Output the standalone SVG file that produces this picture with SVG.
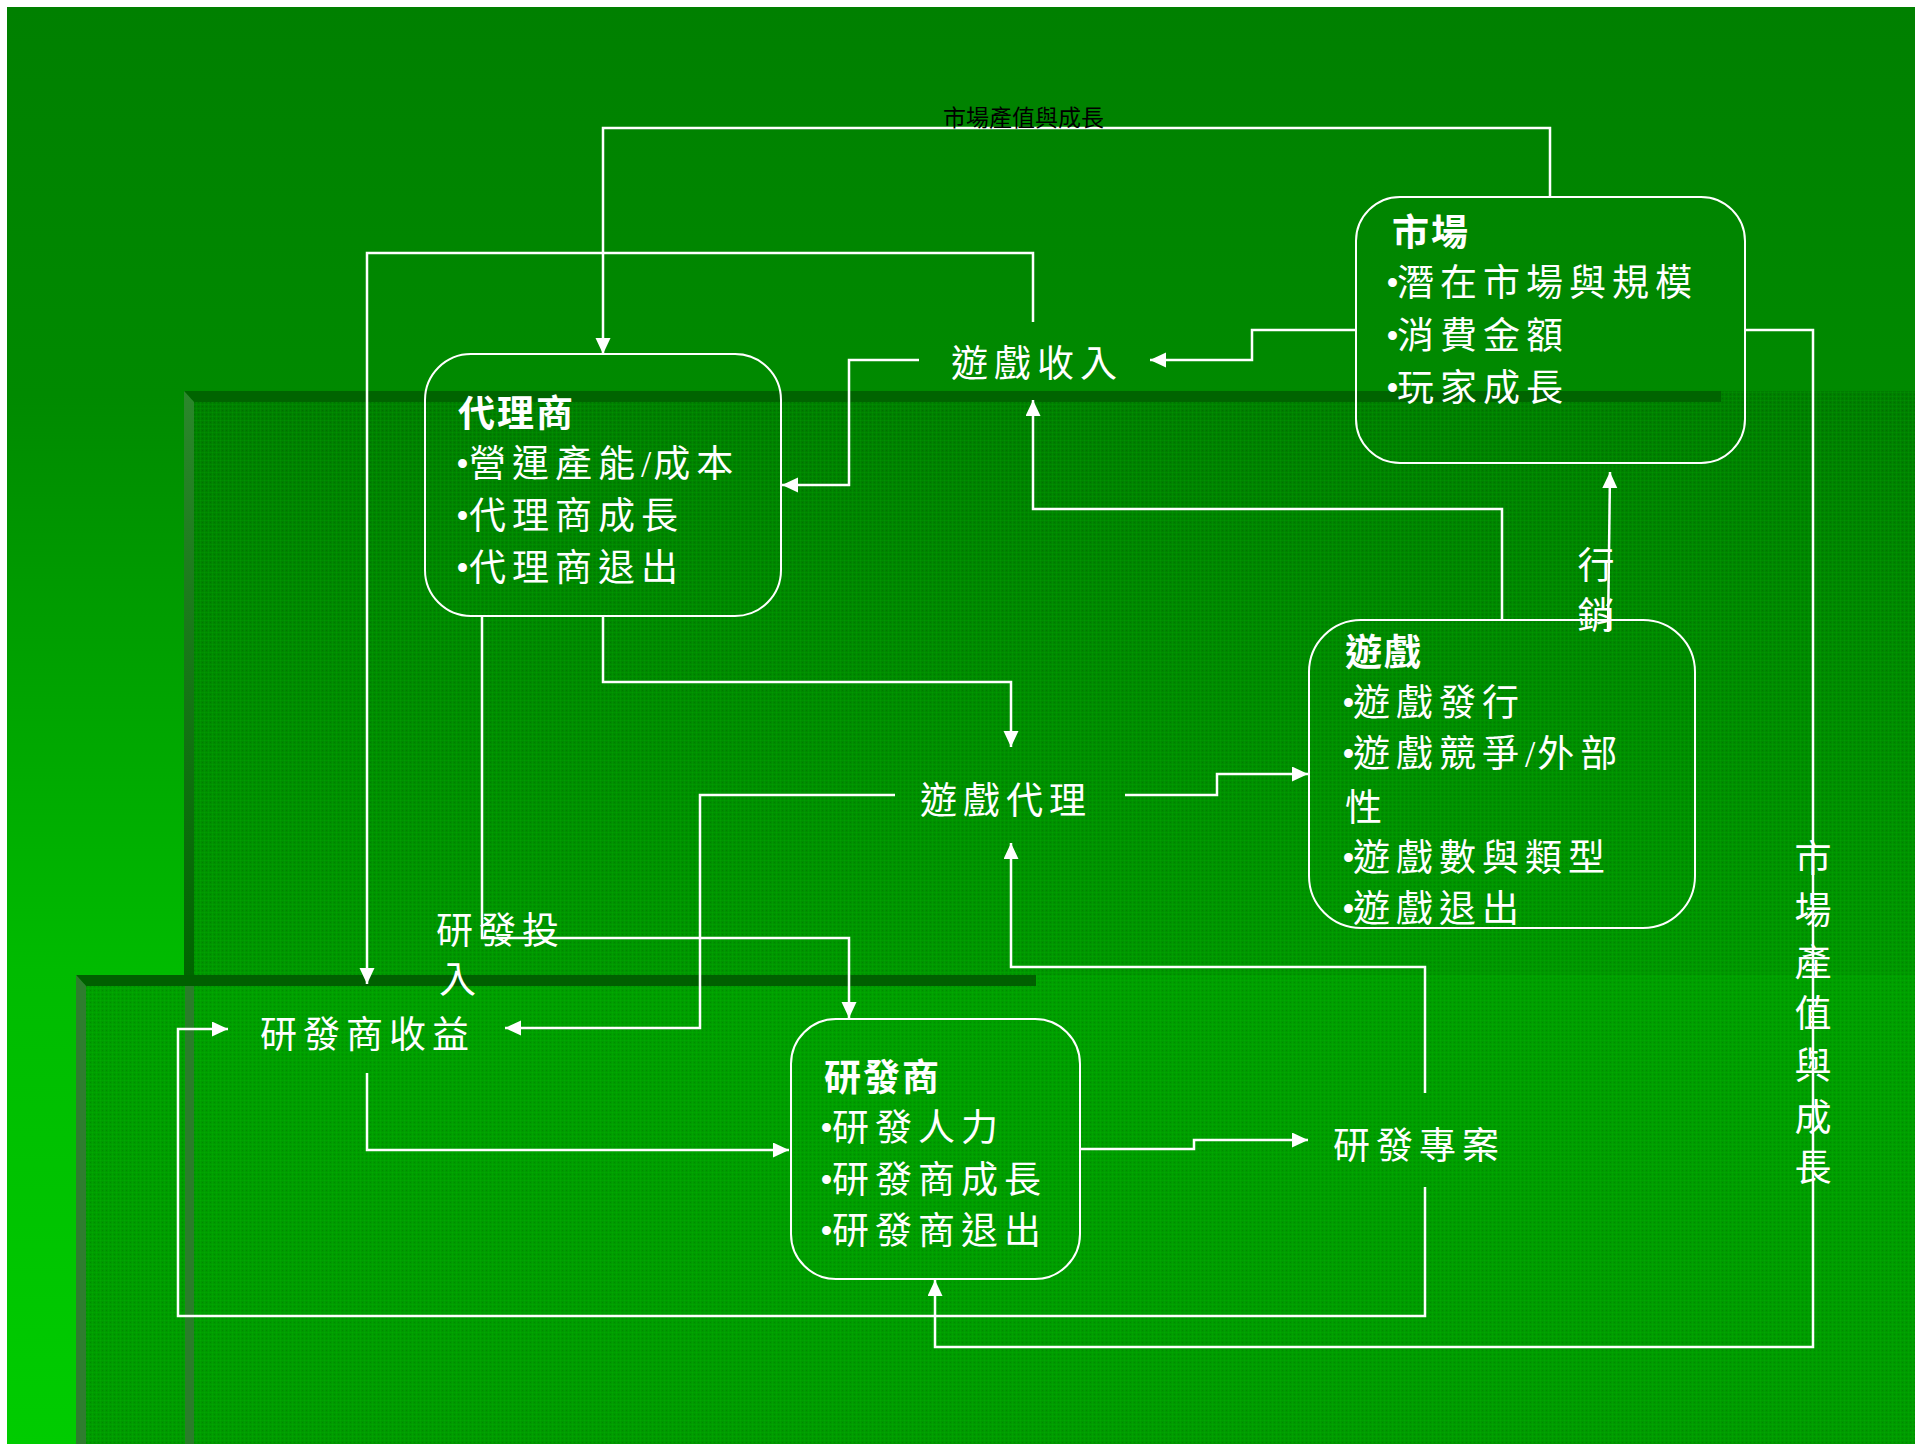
<svg xmlns="http://www.w3.org/2000/svg" width="1915" height="1444" viewBox="0 0 1915 1444">
<style>
.ln{fill:none;stroke:#fff;stroke-width:2.5;}
.box{fill:none;stroke:#fff;stroke-width:2;}
.t{fill:#fff;font-family:"Noto Sans CJK TC","Noto Sans CJK SC",sans-serif;font-size:37px;letter-spacing:6px;}
.tb{font-weight:bold;letter-spacing:2px;}
.bul{font-family:"Liberation Serif",serif;letter-spacing:0;}
.sl{font-family:"Liberation Serif",serif;letter-spacing:2px;}
.v{fill:#fff;font-family:"Noto Sans CJK TC","Noto Sans CJK SC",sans-serif;font-size:37px;text-anchor:middle;}
.top{fill:#000;font-family:"Noto Sans CJK TC","Noto Sans CJK SC",sans-serif;font-size:23px;}
</style>
<defs>
<linearGradient id="bg" gradientUnits="userSpaceOnUse" x1="0" y1="7" x2="0" y2="1444">
<stop offset="0" stop-color="#008000"/>
<stop offset="0.27" stop-color="#008a00"/>
<stop offset="0.67" stop-color="#00bb00"/>
<stop offset="1" stop-color="#00cc00"/>
</linearGradient>
<linearGradient id="p1" gradientUnits="userSpaceOnUse" x1="0" y1="391" x2="0" y2="975">
<stop offset="0" stop-color="#007c00"/>
<stop offset="1" stop-color="#009400"/>
</linearGradient>
<linearGradient id="p2" gradientUnits="userSpaceOnUse" x1="0" y1="975" x2="0" y2="1444">
<stop offset="0" stop-color="#009c00"/>
<stop offset="1" stop-color="#009800"/>
</linearGradient>
<linearGradient id="bev1" gradientUnits="userSpaceOnUse" x1="0" y1="391" x2="0" y2="975">
<stop offset="0" stop-color="#2b872b"/>
<stop offset="1" stop-color="#006400"/>
</linearGradient>
<pattern id="tex" width="4" height="4" patternUnits="userSpaceOnUse">
<rect x="0" y="0" width="4" height="1" fill="#00ff00" fill-opacity="0.07"/>
<rect x="0" y="0" width="1" height="4" fill="#00ff00" fill-opacity="0.07"/>
<rect x="2" y="2" width="1" height="1" fill="#000" fill-opacity="0.1"/>
</pattern>
<marker id="ah" markerUnits="userSpaceOnUse" markerWidth="16" markerHeight="16" refX="16" refY="7.5" orient="auto">
<path d="M0,0 L16,7.5 L0,15 Z" fill="#fff"/>
</marker>
</defs>

<g id="background">
<rect x="0" y="0" width="1915" height="1444" fill="#fff"/>
<rect x="7" y="7" width="1908" height="1437" fill="url(#bg)"/>
<rect x="184" y="391" width="1731" height="1053" fill="url(#p1)"/>
<rect x="184" y="391" width="1731" height="1053" fill="url(#tex)"/>
<polygon points="184,391 1721,391 1721,402 194,402" fill="#006400"/>
<polygon points="184,391 194,402 194,975 184,975" fill="url(#bev1)"/>
<rect x="76" y="975" width="1839" height="469" fill="url(#p2)"/>
<rect x="76" y="975" width="1839" height="469" fill="url(#tex)"/>
<rect x="185" y="986" width="9" height="458" fill="#2a7d2a"/>
<polygon points="76,975 1036,975 1036,986 86,986" fill="#006000"/>
<polygon points="76,975 86,986 86,1444 76,1444" fill="#2e7d2e"/>
</g>

<g id="connectors">
<path class="ln" d="M1550,197 V128 H603 V354" marker-end="url(#ah)"/>
<path class="ln" d="M1033,322 V253 H367 V984" marker-end="url(#ah)"/>
<path class="ln" d="M1356,330 H1252 V360 H1150" marker-end="url(#ah)"/>
<path class="ln" d="M919,360 H849 V485 H782" marker-end="url(#ah)"/>
<path class="ln" d="M1502,620 V509 H1033 V400" marker-end="url(#ah)"/>
<path class="ln" d="M1608,632 L1610,472" marker-end="url(#ah)"/>
<path class="ln" d="M1745,330 H1813 V1347 H935 V1280" marker-end="url(#ah)"/>
<path class="ln" d="M603,616 V682 H1011 V747" marker-end="url(#ah)"/>
<path class="ln" d="M1125,795 H1217 V774 H1308" marker-end="url(#ah)"/>
<path class="ln" d="M895,795 H700 V1028 H505" marker-end="url(#ah)"/>
<path class="ln" d="M482,616 V938 H849 V1018" marker-end="url(#ah)"/>
<path class="ln" d="M367,1073 V1150 H789" marker-end="url(#ah)"/>
<path class="ln" d="M1425,1187 V1316 H178 V1029 H228" marker-end="url(#ah)"/>
<path class="ln" d="M1425,1093 V967 H1011 V843" marker-end="url(#ah)"/>
<path class="ln" d="M1080,1149 H1194 V1140 H1308" marker-end="url(#ah)"/>
</g>

<g id="market">
<rect class="box" x="1356" y="197" width="389" height="266" rx="44" ry="44"/>
<text class="t"><tspan class="tb" x="1392" y="246">市場</tspan><tspan class="bul" x="1386" y="296">•</tspan><tspan x="1397">潛在市場與規模</tspan><tspan class="bul" x="1386" y="349">•</tspan><tspan x="1397">消費金額</tspan><tspan class="bul" x="1386" y="401">•</tspan><tspan x="1397">玩家成長</tspan></text>
</g>

<g id="agent">
<rect class="box" x="425" y="354" width="356" height="262" rx="46" ry="46"/>
<text class="t"><tspan class="tb" x="458" y="427">代理商</tspan><tspan class="bul" x="456" y="477">•</tspan><tspan x="469">營運產能</tspan><tspan class="sl">/</tspan><tspan>成本</tspan><tspan class="bul" x="456" y="529">•</tspan><tspan x="469">代理商成長</tspan><tspan class="bul" x="456" y="581">•</tspan><tspan x="469">代理商退出</tspan></text>
</g>

<g id="game">
<rect class="box" x="1309" y="620" width="386" height="308" rx="52" ry="52"/>
<text class="t"><tspan class="tb" x="1345" y="666">遊戲</tspan><tspan class="bul" x="1342" y="716">•</tspan><tspan x="1353">遊戲發行</tspan><tspan class="bul" x="1342" y="767">•</tspan><tspan x="1353">遊戲競爭</tspan><tspan class="sl">/</tspan><tspan>外部</tspan><tspan x="1345" y="821">性</tspan><tspan class="bul" x="1342" y="871">•</tspan><tspan x="1353">遊戲數與類型</tspan><tspan class="bul" x="1342" y="922">•</tspan><tspan x="1353">遊戲退出</tspan></text>
</g>

<g id="developer">
<rect class="box" x="791" y="1019" width="289" height="260" rx="45" ry="45"/>
<text class="t"><tspan class="tb" x="824" y="1091">研發商</tspan><tspan class="bul" x="820" y="1141">•</tspan><tspan x="832">研發人力</tspan><tspan class="bul" x="820" y="1193">•</tspan><tspan x="832">研發商成長</tspan><tspan class="bul" x="820" y="1244">•</tspan><tspan x="832">研發商退出</tspan></text>
</g>

<g id="labels">
<text class="top" x="943" y="126">市場產值與成長</text>
<text class="t" x="951" y="377">遊戲收入</text>
<text class="t" x="920" y="814">遊戲代理</text>
<text class="t" x="260" y="1048">研發商收益</text>
<text class="t" x="1333" y="1159">研發專案</text>
<text class="t"><tspan x="436" y="944">研發投</tspan><tspan x="439" y="993">入</tspan></text>
<text class="v"><tspan x="1596" y="579">行</tspan><tspan x="1596" y="629">銷</tspan></text>
<text class="v"><tspan x="1813" y="872">市</tspan><tspan x="1813" y="924">場</tspan><tspan x="1813" y="976">產</tspan><tspan x="1813" y="1027">值</tspan><tspan x="1813" y="1079">與</tspan><tspan x="1813" y="1131">成</tspan><tspan x="1813" y="1181">長</tspan></text>
</g>
</svg>
